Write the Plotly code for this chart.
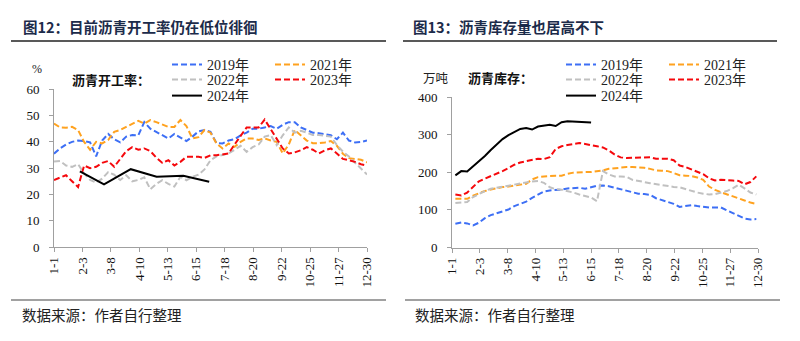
import pandas as pd
import plotly.graph_objects as go

# ---------------- data ----------------
tick_labels = ["1-1", "2-3", "3-8", "4-10", "5-13", "6-15", "7-18",
               "8-20", "9-22", "10-25", "11-27", "12-30"]
axis_year = 2023  # common calendar used to overlay the different years

# 沥青开工率 (%), weekly
rate_2019 = [35.5, 37.5, 39, 40, 40.5, 40.3, 39.8, 34.5, 40.5, 43, 41, 39.8, 42, 42.6,
             42.5, 47.5, 45, 43.8, 42.5, 41.3, 43, 41.5, 40.3, 42, 44, 44.5, 43.8, 39.5,
             39.4, 40.5, 41, 42.5, 43.5, 45, 45, 45.5, 46, 45, 46.5, 47.5, 47.5, 45.5,
             44.5, 43.5, 43.3, 43, 42.5, 41, 43.5, 40.5, 39.8, 40, 40.5]
rate_2021 = [47, 45.5, 45.4, 45.7, 44.5, 40, 37, 40, 39.4, 40.7, 43.8, 44.5, 45.7, 47,
             48, 47, 48.3, 47.5, 46.5, 45.7, 45.7, 48.3, 46, 41.3, 41.8, 44.5, 43.5, 39.4,
             37.5, 39.4, 38.1, 40, 41.3, 41.3, 40.7, 41.3, 40.5, 40, 35.6, 39, 44.5, 42.5,
             40.5, 39.5, 39.5, 39.8, 40.3, 38.5, 35.5, 33.8, 33.6, 33.2, 32.2]
rate_2022 = [32.5, 32.7, 31, 30.5, 31.5, 28, 25.5, 24.5, 26, 28.5, 27.5, 25.5, 27.3, 25,
             25.5, 26.5, 22, 24, 25.4, 24, 23, 26.7, 25.4, 26.7, 27.5, 29.5, 33, 34.5,
             35, 35.6, 37, 38.5, 36.2, 38, 39, 42, 42.6, 38.8, 42.5, 45.5, 43.5, 44.2,
             43.5, 42.6, 42.6, 42.3, 42, 38.8, 36.3, 34.4, 32, 30, 27.6]
rate_2023 = [25.5, 26.5, 27.3, 25, 22.8, 31, 30, 30.5, 32, 32.7, 30.5, 33.5, 36.5, 38,
             37, 37.5, 36.5, 34, 32, 33, 31, 32.4, 34.3, 34.3, 34.3, 33.9, 34.9, 34.9,
             35.2, 35.6, 39, 42.5, 45.5, 45.5, 45.5, 48.5, 45, 41.5, 37.5, 35.6, 36, 36.8,
             38, 37, 35.6, 36.8, 37.5, 35.6, 33.5, 33, 32.4, 31.5, 31]
# 2024 开工率, month-end readings
rate_2024_dates = ["1-31", "2-28", "3-31", "4-30", "5-31", "6-30"]
rate_2024 = [28.8, 23.8, 29.6, 26.7, 27.1, 24.8]

# 沥青库存 (万吨), weekly from 1-5
stock_2019 = [63, 66.5, 64, 58.6, 66, 78, 86, 91, 96, 101, 110, 115, 122, 132, 140, 149,
              151.7, 152, 154, 157, 158.8, 158.8, 156, 161, 164, 165, 163, 159, 155, 150,
              147, 143, 142, 140, 131, 126, 123, 116, 108, 110, 112.5, 110, 108, 106,
              106.5, 106.5, 99, 92, 84, 77, 74.5, 75.5]
stock_2021 = [129.5, 129.5, 129.5, 138, 145, 150, 154, 158, 160.6, 162, 164.5, 166.5,
              169.5, 181, 187, 189, 190.5, 190.8, 190.8, 196, 199, 200.5, 200.5, 200.5,
              202, 205, 209, 211, 213.8, 213.8, 213.8, 213, 212, 209, 205, 204, 203, 198,
              192, 191, 190, 186, 180, 162, 153, 147, 142, 136, 130, 125, 119.5, 116]
stock_2022 = [118, 119, 120.7, 134, 143, 150, 156, 159, 161, 165, 167, 169, 173, 175.5,
              176.6, 172, 160, 155, 153.5, 150, 146, 141, 137, 133, 123, 203, 194, 189,
              189, 188, 180, 176, 174, 171, 168, 166, 163, 161, 160, 155, 150, 146, 143,
              141, 142, 145, 150, 157, 167, 157, 146, 141]
stock_2023 = [141, 138.4, 146, 160.6, 176, 183, 189, 195, 203, 211, 220, 226, 229.5,
              233.5, 236, 235, 240, 262, 269, 272.5, 275, 277.7, 275, 271, 269, 266, 258,
              247, 239.5, 238, 238.7, 239.5, 241, 240, 236, 236, 236, 232, 218, 214, 208,
              203, 195, 184, 178, 180, 180, 178, 177, 168, 174, 189]
stock_2024 = [191.7, 203, 202, 215.6, 227, 243, 259, 274, 288, 298.5, 306, 315, 317.7,
              313.5, 321.5, 324, 326, 323, 333, 335.4, 334.5, 333.6, 333, 332]

# ---------------- x positions on a shared calendar ----------------
def on_calendar(md):
    return pd.to_datetime(f"{axis_year}-{md}", format="%Y-%m-%d")

tick_dates = [on_calendar(t) for t in tick_labels]
rate_weeks = pd.date_range(on_calendar("1-1"), on_calendar("12-30"), periods=len(rate_2019))
rate_2024_x = [on_calendar(d) for d in rate_2024_dates]
stock_weeks = pd.date_range(on_calendar("1-5"), periods=len(stock_2019), freq="7D")

# ---------------- styling ----------------
BLUE, ORANGE, GREY, RED, BLACK = "#3D6FF5", "#FFA21F", "#C0C0C0", "#F5080C", "#000000"
DASH = "6px,3px"
AXIS_GREY = "#A0A0A0"
SERIF = "Liberation Serif, Noto Sans CJK SC"
CJK = "Noto Sans CJK SC"
W, H = 800, 341


def px_x(v):
    return v / W


def px_y(v):
    return 1 - v / H


fig = go.Figure()

left_series = [
    ("2019年", rate_weeks, rate_2019, BLUE, DASH, "legend"),
    ("2021年", rate_weeks, rate_2021, ORANGE, DASH, "legend2"),
    ("2022年", rate_weeks, rate_2022, GREY, DASH, "legend3"),
    ("2023年", rate_weeks, rate_2023, RED, DASH, "legend4"),
    ("2024年", rate_2024_x, rate_2024, BLACK, "solid", "legend5"),
]
right_series = [
    ("2019年", stock_weeks, stock_2019, BLUE, DASH, "legend6"),
    ("2021年", stock_weeks, stock_2021, ORANGE, DASH, "legend7"),
    ("2022年", stock_weeks, stock_2022, GREY, DASH, "legend8"),
    ("2023年", stock_weeks, stock_2023, RED, DASH, "legend9"),
    ("2024年", stock_weeks[:len(stock_2024)], stock_2024, BLACK, "solid", "legend10"),
]

for name, xs, ys, color, dash, lg in left_series:
    fig.add_trace(go.Scatter(x=xs, y=ys, name=name, mode="lines", xaxis="x", yaxis="y",
                             line=dict(color=color, width=2, dash=dash), legend=lg))
for name, xs, ys, color, dash, lg in right_series:
    fig.add_trace(go.Scatter(x=xs, y=ys, name=name, mode="lines", xaxis="x2", yaxis="y2",
                             line=dict(color=color, width=2, dash=dash), legend=lg))

# legend slots: (left edge px, top px) for each entry
legend_slots = {
    "legend": (167, 49), "legend2": (270, 49), "legend3": (167, 64),
    "legend4": (270, 64), "legend5": (167, 80),
    "legend6": (561, 49), "legend7": (664, 49), "legend8": (561, 64),
    "legend9": (664, 64), "legend10": (561, 80),
}
legend_layout = {}
for key, (lx, ly) in legend_slots.items():
    legend_layout[key] = dict(x=px_x(lx), y=px_y(ly), xanchor="left", yanchor="top",
                              bgcolor="rgba(0,0,0,0)", borderwidth=0,
                              font=dict(family=SERIF, size=14, color="#222222"))

axis_common = dict(showline=True, linecolor=AXIS_GREY, linewidth=1, ticks="outside",
                   tickcolor=AXIS_GREY, ticklen=4, showgrid=False, zeroline=False,
                   tickfont=dict(family=SERIF, size=13, color="#111111"))

x_common = dict(axis_common, type="date", range=[on_calendar("1-1"), on_calendar("12-30")],
                tickmode="array", tickvals=tick_dates, ticktext=tick_labels, tickangle=-90)

fig.update_layout(
    width=W, height=H,
    margin=dict(l=0, r=0, t=0, b=0, autoexpand=False),
    paper_bgcolor="white", plot_bgcolor="white",
    showlegend=True,
    xaxis=dict(x_common, domain=[px_x(54), px_x(367)], anchor="y"),
    yaxis=dict(axis_common, domain=[px_y(247), px_y(89.3)], anchor="x",
               range=[0, 60], dtick=10, ticklabelstandoff=7),
    xaxis2=dict(x_common, domain=[px_x(452), px_x(758)], anchor="y2"),
    yaxis2=dict(axis_common, domain=[px_y(247.5), px_y(97)], anchor="x2",
                range=[0, 400], dtick=100, ticklabelstandoff=7),
    **legend_layout,
)

# titles, units, captions, rules
texts = [
    ("图12：目前沥青开工率仍在低位徘徊", 21, 26, 14.5, "#1C2B4A", True, CJK),
    ("图13：沥青库存量也居高不下", 411, 26, 14.5, "#1C2B4A", True, CJK),
    ("%", 30, 69, 12, "#222222", False, SERIF),
    ("沥青开工率：", 70, 79, 13, "#111111", True, CJK),
    ("万吨", 421, 77, 12.5, "#222222", False, CJK),
    ("沥青库存：", 466, 77, 13, "#111111", True, CJK),
    ("数据来源：作者自行整理", 20, 314, 14.5, "#222222", False, CJK),
    ("数据来源：作者自行整理", 413, 314, 14.5, "#222222", False, CJK),
]
for txt, tx, ty, size, color, bold, fam in texts:
    fig.add_annotation(text=f"<b>{txt}</b>" if bold else txt, xref="paper", yref="paper",
                       x=px_x(tx), y=px_y(ty), xanchor="left", yanchor="middle",
                       showarrow=False, font=dict(family=fam, size=size, color=color))

rules = [(11, 386, 41, 1.5, "#222222"), (403, 777, 41, 1.5, "#222222"),
         (11, 386, 300, 1.2, "#444444"), (405, 780, 300, 1.2, "#444444")]
for x0, x1, yy, wdt, col in rules:
    fig.add_shape(type="line", xref="paper", yref="paper", x0=px_x(x0), x1=px_x(x1),
                  y0=px_y(yy), y1=px_y(yy), line=dict(color=col, width=wdt))

fig.write_html("out.html")
